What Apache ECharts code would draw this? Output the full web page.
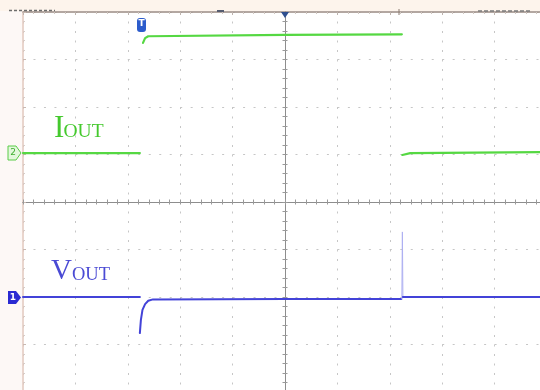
<!DOCTYPE html>
<html>
<head>
<meta charset="utf-8">
<script src="https://cdn.jsdelivr.net/npm/echarts@6/dist/echarts.min.js"></script>
<style>
  html, body { margin: 0; padding: 0; background: #ffffff; }
  #scope { width: 540px; height: 390px; }
</style>
</head>
<body>
<div id="scope"></div>
<script>
// Screen extent in divisions: 10 across, 8 down, zero in the centre
const xRange = [-5, 5];
const yRange = [-4, 4];

// Channel 2 - output current (divisions)
const iOutBefore = [[-5, 1.03], [-2.77, 1.03]];
const iOutLoaded = [[-2.71, 3.35], [-2.67, 3.45], [-2.61, 3.49], [0, 3.52], [2.23, 3.53]];
const iOutAfter = [[2.24, 0.99], [2.39, 1.03], [5, 1.05]];

// Channel 1 - output voltage (divisions)
const vOutBefore = [[-5, -2.0], [-2.77, -2.0]];
const vOutDip = [[-2.77, -2.76], [-2.75, -2.48], [-2.72, -2.27], [-2.67, -2.15], [-2.61, -2.08], [-2.52, -2.05], [0, -2.04], [2.22, -2.04]];
const vOutSpike = [[2.23, -2.04], [2.24, -0.63], [2.25, -2.0]];
const vOutAfter = [[2.25, -2.0], [5, -2.0]];

const GREEN = '#55d842';
const BLUE = '#4343d8';
const tickLine = { color: '#9a9a9a', width: 1 };

function baseAxis(range, extra) {
  return Object.assign({
    type: 'value', min: range[0], max: range[1], interval: 1,
    axisLabel: { show: false },
    splitLine: { show: false },
    minorSplitLine: { show: false }
  }, extra);
}

function trace(name, data, color, width) {
  return {
    name: name, type: 'line', data: data,
    xAxisIndex: 0, yAxisIndex: 0,
    showSymbol: false, symbol: 'none', silent: true,
    lineStyle: { color: color, width: width, cap: 'round', join: 'round' },
    z: 5
  };
}

const chart = echarts.init(document.getElementById('scope'), null, { renderer: 'canvas' });
chart.setOption({
  animation: false,
  backgroundColor: '#ffffff',
  // the screen runs slightly past the right and bottom edges of the window
  grid: { left: 23, top: 12, width: 524, height: 380, containLabel: false, outerBoundsMode: 'none' },
  xAxis: [
    // centre graticule line, ticks below; carries the dotted verticals
    baseAxis(xRange, {
      position: 'bottom',
      axisLine: { show: true, onZero: true, onZeroAxisIndex: 0, lineStyle: { color: '#8d8d8d', width: 1 } },
      axisTick: { show: true, length: 2.5, lineStyle: tickLine },
      minorTick: { show: true, splitNumber: 5, length: 2.5, lineStyle: tickLine },
      splitLine: { show: true, lineStyle: { color: '#c6c6c6', width: 1, type: [2, 7.5] } }
    }),
    // centre graticule line, ticks above
    baseAxis(xRange, {
      position: 'top',
      axisLine: { show: true, onZero: true, onZeroAxisIndex: 1, lineStyle: { color: '#8d8d8d', width: 1 } },
      axisTick: { show: true, length: 2.5, lineStyle: tickLine },
      minorTick: { show: true, splitNumber: 5, length: 2.5, lineStyle: tickLine }
    }),
    // top frame
    baseAxis(xRange, {
      position: 'top',
      axisLine: { show: true, onZero: false, lineStyle: { color: '#9b8b82', width: 1.5 } },
      axisTick: { show: true, inside: true, length: 3, lineStyle: { color: '#bdb3ad', width: 1 } },
      minorTick: { show: true, splitNumber: 5, length: 2, lineStyle: { color: '#cfc6c0', width: 1 } }
    })
  ],
  yAxis: [
    // centre vertical line, ticks left; carries the dotted horizontals
    baseAxis(yRange, {
      position: 'left',
      axisLine: { show: true, onZero: true, onZeroAxisIndex: 0, lineStyle: { color: '#8d8d8d', width: 1 } },
      axisTick: { show: true, length: 2.5, lineStyle: tickLine },
      minorTick: { show: true, splitNumber: 5, length: 2.5, lineStyle: tickLine },
      splitLine: { show: true, lineStyle: { color: '#c6c6c6', width: 1, type: [2, 8.48] } }
    }),
    // centre vertical line, ticks right
    baseAxis(yRange, {
      position: 'right',
      axisLine: { show: true, onZero: true, onZeroAxisIndex: 1, lineStyle: { color: '#8d8d8d', width: 1 } },
      axisTick: { show: true, length: 2.5, lineStyle: tickLine },
      minorTick: { show: true, splitNumber: 5, length: 2.5, lineStyle: tickLine }
    }),
    // left frame
    baseAxis(yRange, {
      position: 'left',
      axisLine: { show: true, onZero: false, lineStyle: { color: '#e2c7bc', width: 1.5 } },
      axisTick: { show: true, inside: true, length: 3, lineStyle: { color: '#c9b9b2', width: 1 } },
      minorTick: { show: true, splitNumber: 5, length: 2, lineStyle: { color: '#d8ccc6', width: 1 } }
    })
  ],
  series: [
    trace('IOUT', iOutBefore, GREEN, 2.2),
    trace('IOUT', iOutLoaded, GREEN, 2.2),
    trace('IOUT', iOutAfter, GREEN, 2.2),
    trace('VOUT', vOutBefore, BLUE, 2),
    trace('VOUT', vOutDip, BLUE, 2),
    trace('VOUT', vOutSpike, '#aeb0f2', 1),
    trace('VOUT', vOutAfter, BLUE, 2)
  ],
  graphic: [
    // status strip above the screen
    { type: 'rect', z: -10, silent: true, shape: { x: 0, y: 0, width: 540, height: 11 }, style: { fill: '#fdf4ec' } },
    { type: 'rect', z: -10, silent: true, shape: { x: 0, y: 11, width: 22, height: 379 }, style: { fill: '#fdf8f6' } },
    { type: 'line', z: 50, silent: true, shape: { x1: 9, y1: 10.5, x2: 55, y2: 10.5 }, style: { stroke: '#6d6d6d', lineWidth: 1.5, lineDash: [3, 2] } },
    { type: 'line', z: 50, silent: true, shape: { x1: 478, y1: 11, x2: 530, y2: 11 }, style: { stroke: '#7a7a7a', lineWidth: 1.5, lineDash: [4, 2] } },
    { type: 'line', z: 50, silent: true, shape: { x1: 217, y1: 11, x2: 224, y2: 11 }, style: { stroke: '#555c70', lineWidth: 2 } },
    { type: 'line', z: 50, silent: true, shape: { x1: 399, y1: 9, x2: 399, y2: 15 }, style: { stroke: '#8a7a70', lineWidth: 1 } },
    // trigger position marker
    { type: 'polygon', z: 50, silent: true, shape: { points: [[281, 12], [289, 12], [285, 18]] }, style: { fill: '#2f4f8f' } },
    // trigger marker
    { type: 'rect', z: 50, silent: true, shape: { x: 137, y: 18, width: 9, height: 14, r: 3 }, style: { fill: '#2c5ccc' } },
    { type: 'text', z: 51, silent: true, x: 141.5, y: 19.5, style: { text: 'T', fill: '#ffffff', font: 'bold 9px "DejaVu Sans"', align: 'center', verticalAlign: 'top' } },
    // channel reference markers
    { type: 'polygon', z: 50, silent: true, shape: { points: [[8, 146], [16, 146], [21, 153], [16, 160], [8, 160]] }, style: { fill: '#e3f8dc', stroke: '#5acc48', lineWidth: 1 } },
    { type: 'text', z: 51, silent: true, x: 13, y: 153, style: { text: '2', fill: '#3fae30', font: '9px "DejaVu Sans"', align: 'center', verticalAlign: 'middle' } },
    { type: 'polygon', z: 50, silent: true, shape: { points: [[8, 291], [16, 291], [21, 297.5], [16, 304], [8, 304]] }, style: { fill: '#2a2ad2' } },
    { type: 'text', z: 51, silent: true, x: 13, y: 297.5, style: { text: '1', fill: '#ffffff', font: 'bold 9px "DejaVu Sans"', align: 'center', verticalAlign: 'middle' } },
    // channel labels
    { type: 'text', z: 51, silent: true, x: 54, y: 113, style: { text: 'I', fill: '#45c92e', font: '31px "Liberation Serif"', verticalAlign: 'top' } },
    { type: 'text', z: 51, silent: true, x: 63.5, y: 122.3, style: { text: 'OUT', fill: '#45c92e', font: '19.5px "Liberation Serif"', verticalAlign: 'top' } },
    { type: 'text', z: 51, silent: true, x: 51, y: 257.2, style: { text: 'V', fill: '#4a4ad4', font: '29px "Liberation Serif"', verticalAlign: 'top' } },
    { type: 'text', z: 51, silent: true, x: 72, y: 265.6, style: { text: 'OUT', fill: '#4a4ad4', font: '18.5px "Liberation Serif"', verticalAlign: 'top' } }
  ]
});
</script>
</body>
</html>
